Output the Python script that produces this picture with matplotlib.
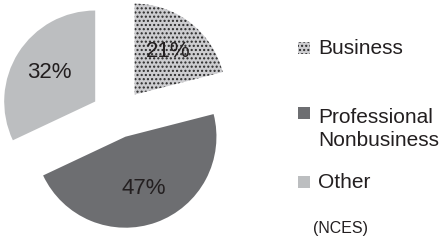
import matplotlib
matplotlib.use("Agg")
import matplotlib.pyplot as plt
from matplotlib.patches import Rectangle

plt.rcParams['font.family'] = ['Liberation Sans', 'DejaVu Sans']
plt.rcParams['hatch.color'] = '#2a2a2a'
plt.rcParams['hatch.linewidth'] = 1.0

labels = ["Business", "Professional\nNonbusiness", "Other"]
values = [21, 47, 32]
colors = ["#cdcdd0", "#6d6e71", "#bcbec0"]
hatches = ["....", None, None]
explode = [27, 22, 27]
source = "(NCES)"

W, H = 441, 241
fig = plt.figure(figsize=(W / 100, H / 100), dpi=100)
ax = fig.add_axes([0, 0, 1, 1])

wedges, texts, autotexts = ax.pie(
    values, colors=colors, explode=explode, startangle=90, counterclock=False,
    radius=91, center=(118, 125), autopct='%d%%', pctdistance=0.6,
    wedgeprops=dict(linewidth=0), textprops=dict(fontsize=16, color='#231f20'))
for w, h in zip(wedges, hatches):
    if h:
        w.set_hatch(h)

ax.set_xlim(0, W)
ax.set_ylim(0, H)
ax.set_aspect('equal')
ax.axis('off')

# legend: (label, colour, hatch, square centre y, text centre y)
legend_rows = [(labels[0], colors[0], hatches[0], 193, 193),
               (labels[1], colors[1], hatches[1], 128, 112),
               (labels[2], colors[2], hatches[2], 59, 59)]
for lab, col, h, sqc, txc in legend_rows:
    r = Rectangle((298, sqc - 6), 12, 12, facecolor=col, edgecolor='#2a2a2a',
                  linewidth=0, hatch=h)
    ax.add_patch(r)
    ax.text(318, txc, lab, fontsize=15, color='#231f20', va='center', ha='left',
            linespacing=1.3)
ax.text(313, 13, source, fontsize=11.5, color='#231f20', va='center', ha='left')

fig.savefig("out.png", dpi=100)
